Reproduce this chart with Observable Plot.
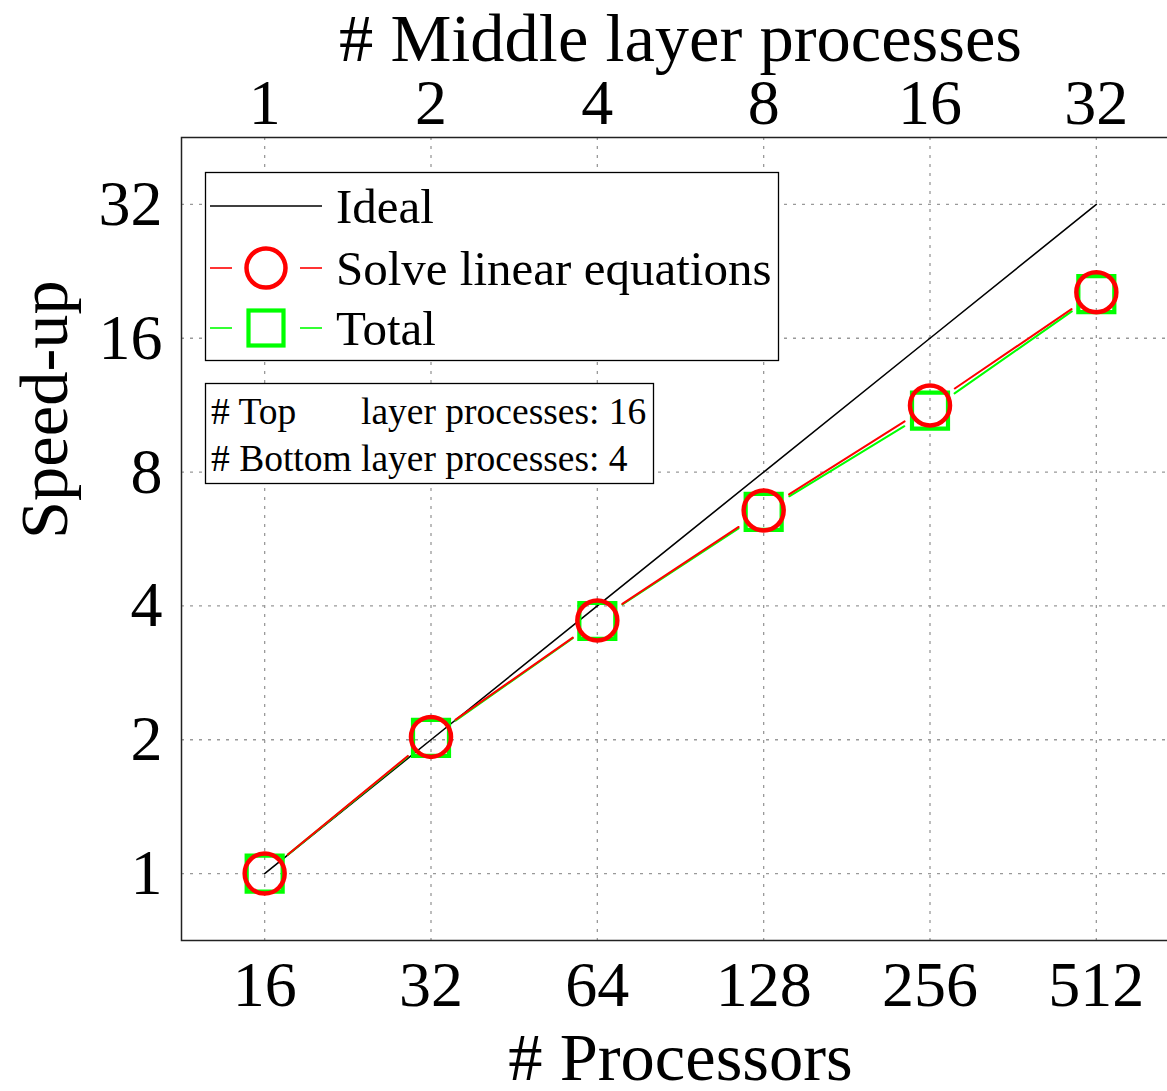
<!DOCTYPE html>
<html><head><meta charset="utf-8">
<script src="https://cdn.jsdelivr.net/npm/d3@7"></script>
<script src="https://cdn.jsdelivr.net/npm/@observablehq/plot@0.6"></script>
<style>
body{margin:0;overflow:hidden;background:#fff}
#wrap{position:relative;width:1167px;height:1091px;overflow:hidden}
#wrap svg{position:absolute;left:0;top:0;max-width:none !important}
</style>
</head><body><div id="wrap"></div>
<script>
const processors = [16, 32, 64, 128, 256, 512];
const middleLayer = [1, 2, 4, 8, 16, 32];
const ideal = [1, 2, 4, 8, 16, 32];
const solve = [1, 2.03, 3.71, 6.56, 11.3, 20.3];
const total = [1, 2.02, 3.70, 6.51, 11.0, 20.1];
const yTicks = [1, 2, 4, 8, 16, 32];
const legendLabels = ["Ideal", "Solve linear equations", "Total"];
const infoLines = ["# Top", "# Bottom", "layer processes: 16", "layer processes: 4"];

const FONT = "Liberation Serif, Times New Roman, serif";
const RED = "#ff0000", GREEN = "#00ff00";

const pts = (ys) => processors.map((x, i) => ({x, y: ys[i]}));
const segs = (ys) => processors.slice(0, -1).map((x, i) => ({x1: x, y1: ys[i], x2: processors[i + 1], y2: ys[i + 1]}));

const chart = Plot.plot({
  width: 1180, height: 1091,
  marginLeft: 181, marginRight: 1, marginTop: 137, marginBottom: 151,
  style: {fontFamily: FONT, background: "#fff", color: "#000", maxWidth: "none"},
  x: {type: "log", base: 2, domain: [16 / Math.SQRT2, 512 * Math.SQRT2]},
  y: {type: "log", base: 2, domain: [2 ** -0.5, 2 ** 5.5]},
  marks: [
    Plot.gridX(processors, {stroke: "#999", strokeOpacity: 1, strokeWidth: 1.3, strokeDasharray: "3,6"}),
    Plot.gridY(yTicks, {stroke: "#999", strokeOpacity: 1, strokeWidth: 1.3, strokeDasharray: "3,6"}),
    Plot.frame({stroke: "#222", strokeWidth: 1.5}),
    Plot.axisX(processors, {anchor: "bottom", tickSize: 0, tickPadding: 20, fontSize: 64, label: null, tickFormat: d => String(d)}),
    Plot.axisX(processors, {anchor: "top", tickSize: 0, tickPadding: 14, fontSize: 64, label: null, tickFormat: d => String(middleLayer[processors.indexOf(d)])}),
    Plot.axisY(yTicks, {anchor: "left", tickSize: 0, tickPadding: 19, fontSize: 64, label: null, tickFormat: d => String(d)}),
    Plot.text(["# Processors"], {frameAnchor: "bottom", dy: 118, fontSize: 68.5, lineAnchor: "middle", text: d => d}),
    Plot.text(["# Middle layer processes"], {frameAnchor: "top", dy: -98, fontSize: 68.5, lineAnchor: "middle", text: d => d}),
    Plot.text(["Speed-up"], {frameAnchor: "left", dx: -136, rotate: -90, fontSize: 68.5, lineAnchor: "middle", text: d => d}),
    Plot.line(pts(ideal), {x: "x", y: "y", stroke: "#000", strokeWidth: 1.6}),
    Plot.arrow(segs(total), {x1: "x1", y1: "y1", x2: "x2", y2: "y2", stroke: GREEN, strokeWidth: 2, headLength: 0, inset: 30}),
    Plot.arrow(segs(solve), {x1: "x1", y1: "y1", x2: "x2", y2: "y2", stroke: RED, strokeWidth: 2, headLength: 0, inset: 30}),
    Plot.dot(pts(total), {x: "x", y: "y", symbol: "square", r: 20.3, stroke: GREEN, strokeWidth: 4.2, fill: "none"}),
    Plot.dot(pts(solve), {x: "x", y: "y", symbol: "circle", r: 20, stroke: RED, strokeWidth: 4.5, fill: "none"})
  ]
});
const wrap = document.getElementById("wrap");
chart.style.maxWidth = "none";
chart.style.width = "1180px";
chart.style.height = "1091px";
wrap.appendChild(chart);

// Legend overlay
const svg = d3.select(wrap).append("svg").attr("width", 1167).attr("height", 1091)
  .style("font-family", FONT).style("pointer-events", "none");
const lg = svg.append("g");
lg.append("rect").attr("x", 205.5).attr("y", 172.5).attr("width", 573).attr("height", 188)
  .attr("fill", "#fff").attr("stroke", "#000").attr("stroke-width", 1.3);
const rows = [206, 268, 328];
lg.append("line").attr("x1", 210).attr("x2", 322).attr("y1", rows[0]).attr("y2", rows[0]).attr("stroke", "#000").attr("stroke-width", 1.6);
[[210, 232], [300, 322]].forEach(([a, b]) => {
  lg.append("line").attr("x1", a).attr("x2", b).attr("y1", rows[1]).attr("y2", rows[1]).attr("stroke", RED).attr("stroke-width", 1.6);
  lg.append("line").attr("x1", a).attr("x2", b).attr("y1", rows[2]).attr("y2", rows[2]).attr("stroke", GREEN).attr("stroke-width", 1.6);
});
lg.append("circle").attr("cx", 266).attr("cy", rows[1]).attr("r", 19.5).attr("fill", "none").attr("stroke", RED).attr("stroke-width", 4.5);
lg.append("rect").attr("x", 266 - 17.5).attr("y", rows[2] - 17.5).attr("width", 35).attr("height", 35).attr("fill", "none").attr("stroke", GREEN).attr("stroke-width", 4.2);
legendLabels.forEach((t, i) => {
  lg.append("text").attr("x", 336).attr("y", rows[i]).attr("dominant-baseline", "central")
    .attr("font-size", 49).text(t);
});
// Info box
const ib = svg.append("g");
ib.append("rect").attr("x", 205.5).attr("y", 383.5).attr("width", 448).attr("height", 100)
  .attr("fill", "#fff").attr("stroke", "#000").attr("stroke-width", 1.3);
const FS = 37.5;
ib.append("text").attr("x", 211).attr("y", 411).attr("dominant-baseline", "central").attr("font-size", FS).text(infoLines[0]);
const t2 = ib.append("text").attr("x", 211).attr("y", 458).attr("dominant-baseline", "central").attr("font-size", FS).text(infoLines[1]);
const w2 = t2.node().getComputedTextLength();
const sp = FS * 0.25;
ib.append("text").attr("x", 211 + w2 + sp).attr("y", 411).attr("dominant-baseline", "central").attr("font-size", FS).text(infoLines[2]);
ib.append("text").attr("x", 211 + w2 + sp).attr("y", 458).attr("dominant-baseline", "central").attr("font-size", FS).text(infoLines[3]);
</script>
</body></html>
